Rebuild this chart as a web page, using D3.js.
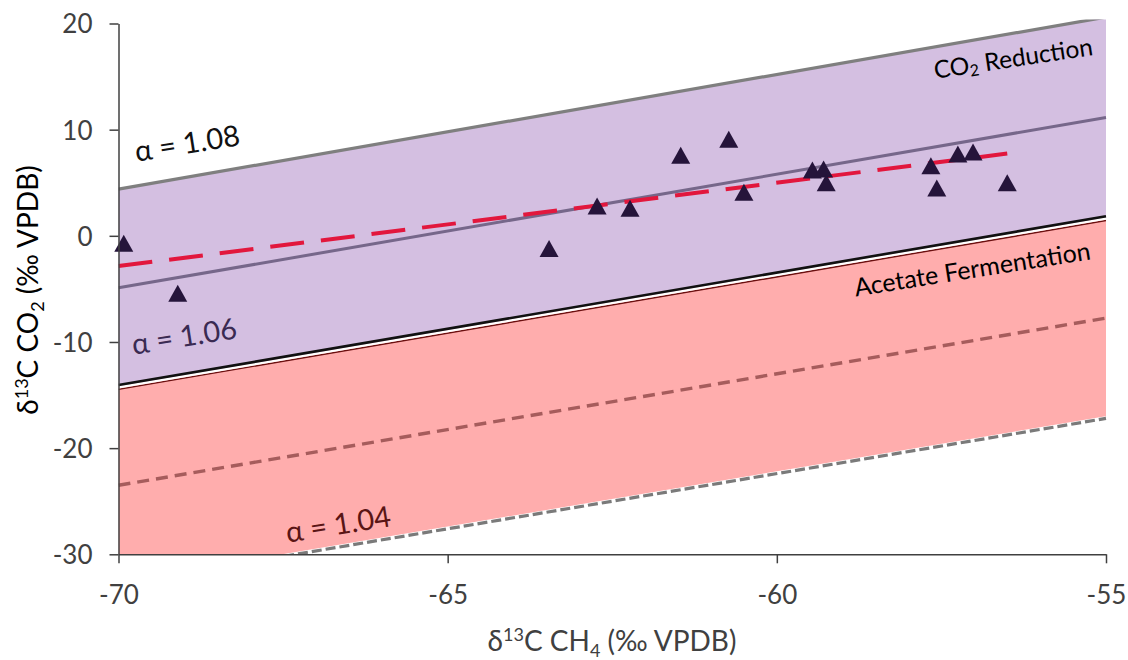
<!DOCTYPE html>
<html>
<head>
<meta charset="utf-8">
<script src="https://cdn.jsdelivr.net/npm/d3@7"></script>
<style>
  html, body { margin: 0; padding: 0; background: #fff; }
  svg { display: block; font-family: Lato, "Open Sans", sans-serif; }
</style>
</head>
<body>
<svg id="chart" width="1128" height="660"></svg>
<script>
// Axis ticks
const xTicks = [-70, -65, -60, -55];
const yTicks = [20, 10, 0, -10, -20, -30];

// Fractionation lines (alpha) given by their end values at δ13C-CH4 = -70 and -55
const lineX = [-70, -55];
const alphas = [1.08, 1.07, 1.06, 1.05, 1.04];
const lineStartY = [4.4, -4.9, -14.2, -23.5, -32.8];
const lineEndY = [20.6, 11.15, 1.7, -7.75, -17.2];

// Samples: δ13C-CH4 vs δ13C-CO2
const ch4 = [-69.92, -69.1, -63.46, -62.73, -62.23, -61.46, -60.73, -60.5, -59.46, -59.29, -59.25, -57.66, -57.57, -57.25, -57.02, -56.5];
const co2 = [-0.7, -5.4, -1.2, 2.8, 2.6, 7.6, 9.1, 4.1, 6.2, 6.3, 5.0, 6.6, 4.5, 7.7, 7.9, 5.0];

// Linear trend through the samples
const trendX = [-70, -56.5];
const trendY = [-2.85, 7.75];

const svg = d3.select("#chart");
const x = d3.scaleLinear().domain([-70, -55]).range([118.5, 1106]);
const y = d3.scaleLinear().domain([-30, 20]).range([554.3, 23.5]);

const lineOf = i => lineX.map((v, k) => [v, k === 0 ? lineStartY[i] : lineEndY[i]]);
const idx = a => alphas.indexOf(a);

svg.append("defs").append("clipPath").attr("id", "plot")
  .append("rect")
  .attr("x", x(-70)).attr("y", y(20) - 4)
  .attr("width", x(-55) - x(-70) + 1).attr("height", y(-30) - y(20) + 4);

const g = svg.append("g").attr("clip-path", "url(#plot)");

const band = (upper, lower) => d3.area()
  .x((d, k) => x(lineX[k]))
  .y1((d, k) => y(k === 0 ? lineStartY[upper] : lineEndY[upper]))
  .y0((d, k) => y(k === 0 ? lineStartY[lower] : lineEndY[lower]))(lineX);

// CO2 reduction field (alpha 1.08 – 1.06) and acetate fermentation field (1.06 – 1.04)
g.append("path").attr("d", band(idx(1.08), idx(1.06))).attr("fill", "#d4bfe1");
g.append("path").attr("d", band(idx(1.06), idx(1.04))).attr("fill", "#ffadad");

const line = d3.line().x(d => x(d[0])).y(d => y(d[1]));

// alpha = 1.04, lower bound of fermentation field
g.append("path").attr("d", line(lineOf(idx(1.04))))
  .attr("fill", "none").attr("stroke", "#fff").attr("stroke-width", 4.5);
g.append("path").attr("d", line(lineOf(idx(1.04))))
  .attr("fill", "none").attr("stroke", "#7a7a7a").attr("stroke-width", 3.2)
  .attr("stroke-dasharray", "10,4");

// alpha = 1.05
g.append("path").attr("d", line(lineOf(idx(1.05))))
  .attr("fill", "none").attr("stroke", "#a65c5c").attr("stroke-width", 3.4)
  .attr("stroke-dasharray", "12,7");

// alpha = 1.06 boundary: black / white / dark red
const b = line(lineOf(idx(1.06)));
g.append("path").attr("d", b).attr("transform", "translate(0,2.8)")
  .attr("fill", "none").attr("stroke", "#6b0f0f").attr("stroke-width", 1.5);
g.append("path").attr("d", b).attr("transform", "translate(0,0.9)")
  .attr("fill", "none").attr("stroke", "#ffffff").attr("stroke-width", 2.3);
g.append("path").attr("d", b).attr("transform", "translate(0,-1.5)")
  .attr("fill", "none").attr("stroke", "#111").attr("stroke-width", 2.6);

// alpha = 1.07
g.append("path").attr("d", line(lineOf(idx(1.07))))
  .attr("fill", "none").attr("stroke", "#76678a").attr("stroke-width", 3);

// alpha = 1.08
g.append("path").attr("d", line(lineOf(idx(1.08))))
  .attr("fill", "none").attr("stroke", "#7f7f7f").attr("stroke-width", 3.2);

// Trend line
g.append("path").attr("d", line(trendX.map((v, k) => [v, trendY[k]])))
  .attr("fill", "none").attr("stroke", "#e2173d").attr("stroke-width", 4)
  .attr("stroke-dasharray", "34,17");

// Sample markers (bounding-box-centred triangles)
const tri = {
  draw(ctx, size) {
    const w = 9.5, h = 8.5;
    ctx.moveTo(0, -h); ctx.lineTo(w, h); ctx.lineTo(-w, h); ctx.closePath();
  }
};
svg.append("g").selectAll("path").data(ch4).join("path")
  .attr("d", d3.symbol().type(tri)())
  .attr("transform", (d, i) => `translate(${x(d)},${y(co2[i])})`)
  .attr("fill", "#25143a");

// Axes
const axisColor = "#404040";
const fmt = d => String(d);
const yAxis = svg.append("g").attr("transform", `translate(${x(-70)},0)`)
  .call(d3.axisLeft(y).tickValues(yTicks).tickFormat(fmt).tickSize(9).tickSizeOuter(0).tickPadding(17));
const xAxis = svg.append("g").attr("transform", `translate(0,${y(-30)})`)
  .call(d3.axisBottom(x).tickValues(xTicks).tickFormat(fmt).tickSize(9).tickSizeOuter(0).tickPadding(22));
[xAxis, yAxis].forEach(a => {
  a.selectAll("path, line").attr("stroke", axisColor).attr("stroke-width", 1.5);
  a.selectAll("text").attr("fill", axisColor).style("font-size", "26px")
    .style("font-family", "Lato, 'Open Sans', sans-serif");
});
yAxis.selectAll("text").attr("dy", "0.36em");

// Axis titles with super/subscripts
const xt = svg.append("text").attr("x", 612).attr("y", 651)
  .attr("text-anchor", "middle").attr("fill", axisColor).style("font-size", "28px");
xt.append("tspan").text("δ");
xt.append("tspan").text("13").attr("dy", -10).style("font-size", "18px");
xt.append("tspan").text("C CH").attr("dy", 10);
xt.append("tspan").text("4").attr("dy", 6).style("font-size", "18px");
xt.append("tspan").text(" (‰ VPDB)").attr("dy", -6);

const yt = svg.append("text").attr("transform", "translate(38,290) rotate(-90)")
  .attr("text-anchor", "middle").attr("fill", "#000").style("font-size", "28px");
yt.append("tspan").text("δ");
yt.append("tspan").text("13").attr("dy", -10).style("font-size", "18px");
yt.append("tspan").text("C CO").attr("dy", 10);
yt.append("tspan").text("2").attr("dy", 6).style("font-size", "18px");
yt.append("tspan").text(" (‰ VPDB)").attr("dy", -6);

// Line and field labels
const labels = [
  { t: "α = 1.08", cx: 187, cy: 142, size: 29, color: "#111", rot: -9 },
  { t: "α = 1.06", cx: 184, cy: 335, size: 29, color: "#3a2a52", rot: -9 },
  { t: "α = 1.04", cx: 338, cy: 523, size: 29, color: "#5a1515", rot: -9 }
];
labels.forEach(l => {
  svg.append("text").text(l.t)
    .attr("transform", `translate(${l.cx},${l.cy}) rotate(${l.rot})`)
    .attr("text-anchor", "middle").attr("dominant-baseline", "central")
    .attr("fill", l.color).style("font-size", l.size + "px");
});

const co2Label = svg.append("text")
  .attr("transform", "translate(1013,57) rotate(-8.5)")
  .attr("text-anchor", "middle").attr("dominant-baseline", "central")
  .attr("fill", "#000").style("font-size", "24.5px");
co2Label.append("tspan").text("CO");
co2Label.append("tspan").text("2").attr("dy", 6).style("font-size", "16px");
co2Label.append("tspan").text(" Reduction").attr("dy", -6);

svg.append("text").text("Acetate Fermentation")
  .attr("transform", "translate(972,268) rotate(-9)")
  .attr("text-anchor", "middle").attr("dominant-baseline", "central")
  .attr("fill", "#000").style("font-size", "25px");
</script>
</body>
</html>
